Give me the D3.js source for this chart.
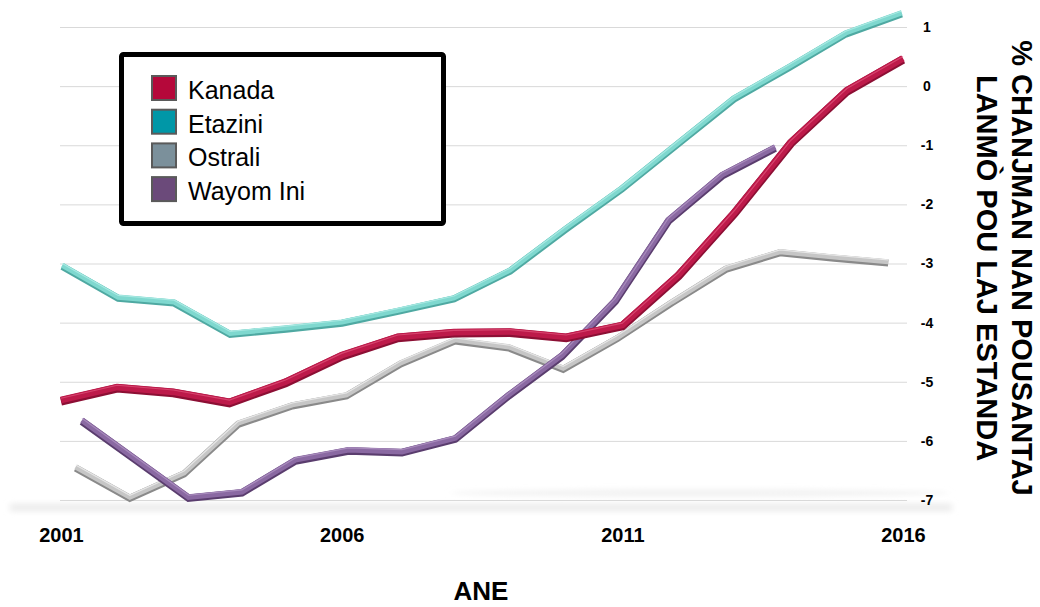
<!DOCTYPE html>
<html>
<head>
<meta charset="utf-8">
<script src="https://cdn.jsdelivr.net/npm/d3@7"></script>
<style>
  html, body { margin: 0; padding: 0; background: #fff; }
  svg { display: block; font-family: Arial, "Liberation Sans", Helvetica, sans-serif; }
</style>
</head>
<body>
<div id="chart"></div>
<script>
const years = d3.range(2001, 2017);
const yTicks = [1, 0, -1, -2, -3, -4, -5, -6, -7];
const xTicks = [2001, 2006, 2011, 2016];

const kanada = [-5.31, -5.09, -5.17, -5.34, -5.0, -4.55, -4.24, -4.16, -4.15, -4.24, -4.04, -3.19, -2.13, -0.95, -0.07, 0.47];
const etazini = [-3.03, -3.57, -3.65, -4.18, -4.09, -3.99, -3.79, -3.58, -3.11, -2.40, -1.72, -0.96, -0.2, 0.34, 0.9, 1.24];
const ostrali = [-6.44, -6.95, -6.54, -5.70, -5.39, -5.22, -4.68, -4.29, -4.41, -4.77, -4.25, -3.65, -3.08, -2.80, -2.89, -2.97];
const wayomIni = [-5.65, -6.3, -6.95, -6.86, -6.32, -6.15, -6.18, -5.95, -5.22, -4.55, -3.62, -2.26, -1.50, -1.03];

const seriesNames = ["Kanada", "Etazini", "Ostrali", "Wayom Ini"];
const seriesValues = [kanada, etazini, ostrali, wayomIni];

// drawing styles (kept apart from the data)
const styles = {
  "Kanada":    { swatch: "#b5083a", base: "#8c0f34", main: "#bd1a4a", hi: "#e2567e", w: 8.5, depth: 1.0 },
  "Etazini":   { swatch: "#0097a7", base: "#4fa9a2", main: "#7fd8cf", hi: "#b8f0ea", w: 7, depth: 0.997 },
  "Ostrali":   { swatch: "#7b909b", base: "#8a8a8a", main: "#c6c6c6", hi: "#f4f4f4", w: 7, depth: 0.965 },
  "Wayom Ini": { swatch: "#6b4a7a", base: "#5a3d6e", main: "#8a69a2", hi: "#b59ac8", w: 7.5, depth: 0.95 }
};

const width = 1040, height = 607;
const svg = d3.select("#chart").append("svg").attr("width", width).attr("height", height);

const defs = svg.append("defs");
const blur = defs.append("filter").attr("id", "floorBlur").attr("x", "-5%").attr("y", "-200%").attr("width", "110%").attr("height", "500%");
blur.append("feGaussianBlur").attr("stdDeviation", "3 2.5");

const x = d3.scaleLinear().domain([2001, 2016]).range([61, 903]);
const y = d3.scaleLinear().domain([-7, 1]).range([500, 27]);
const cx = 480;

// floor shadow
svg.append("rect").attr("x", 10).attr("y", 503).attr("width", 942).attr("height", 9)
  .attr("fill", "#efefef").attr("filter", "url(#floorBlur)");
svg.append("ellipse").attr("cx", 700).attr("cy", 493).attr("rx", 250).attr("ry", 4)
  .attr("fill", "#f3f3f3").attr("filter", "url(#floorBlur)");

// gridlines
svg.append("g").attr("transform", "translate(60,0)")
  .call(d3.axisRight(y).tickValues(yTicks).tickSize(847).tickFormat(() => ""))
  .call(g => g.select(".domain").remove())
  .call(g => g.selectAll("line").attr("stroke", "#d9d9d9").attr("stroke-width", 1));

// right tick labels
svg.append("g").attr("transform", "translate(927,0)")
  .call(d3.axisRight(y).tickValues(yTicks).tickSize(0).tickPadding(0).tickFormat(d => String(d)))
  .call(g => g.select(".domain").remove())
  .call(g => g.selectAll("text")
    .attr("text-anchor", "middle")
    .attr("font-family", "Arial, 'Liberation Sans', sans-serif")
    .attr("font-size", 14).attr("font-weight", "bold").attr("fill", "#000"));

// bottom tick labels
svg.append("g").attr("transform", "translate(0,520)")
  .call(d3.axisBottom(x).tickValues(xTicks).tickSize(0).tickPadding(8).tickFormat(d => String(d)))
  .call(g => g.select(".domain").remove())
  .call(g => g.selectAll("text")
    .attr("font-family", "Arial, 'Liberation Sans', sans-serif")
    .attr("font-size", 20).attr("font-weight", "bold").attr("fill", "#000"));

// axis titles
svg.append("text").attr("x", 481).attr("y", 600).attr("text-anchor", "middle")
  .attr("font-size", 26).attr("font-weight", "bold").text("ANE");

const yTitle = svg.append("g").attr("font-size", 29).attr("font-weight", "bold").attr("text-anchor", "middle");
yTitle.append("text").attr("transform", "translate(1012,268) rotate(90)").text("% CHANJMAN NAN POUSANTAJ");
yTitle.append("text").attr("transform", "translate(977,268) rotate(90)").text("LANMÒ POU LAJ ESTANDA");

// lines, back to front
const drawOrder = ["Etazini", "Ostrali", "Wayom Ini", "Kanada"];
drawOrder.forEach(name => {
  const vals = seriesValues[seriesNames.indexOf(name)];
  const st = styles[name];
  const r = x.range().map(v => cx + (v - cx) * st.depth);
  const xs = x.copy().range(r);
  const pts = vals.map((v, i) => ({ year: years[i], value: v }));
  const line = d3.line().x(d => xs(d.year)).y(d => y(d.value));
  const g = svg.append("g");
  g.append("path").datum(pts).attr("d", line).attr("fill", "none")
    .attr("stroke", st.base).attr("stroke-width", st.w).attr("stroke-linejoin", "miter")
    .attr("transform", "translate(0,1.2)");
  g.append("path").datum(pts).attr("d", line).attr("fill", "none")
    .attr("stroke", st.main).attr("stroke-width", st.w - 1.8).attr("stroke-linejoin", "miter");
  g.append("path").datum(pts).attr("d", line).attr("fill", "none")
    .attr("stroke", st.hi).attr("stroke-width", 1.2).attr("stroke-opacity", 0.7)
    .attr("transform", "translate(0,-1.8)");
});

// legend
const legend = svg.append("g");
legend.append("rect").attr("x", 121.5).attr("y", 54.5).attr("width", 322).attr("height", 169)
  .attr("rx", 2).attr("fill", "#fff").attr("stroke", "#000").attr("stroke-width", 5);
seriesNames.forEach((name, i) => {
  const top = 76 + i * 33.7;
  legend.append("rect").attr("x", 152).attr("y", top).attr("width", 24).attr("height", 24)
    .attr("fill", styles[name].swatch).attr("stroke", "#5a5a5a").attr("stroke-width", 2);
  legend.append("text").attr("x", 188).attr("y", top + 23).attr("font-size", 25).attr("fill", "#000").text(name);
});
</script>
</body>
</html>
